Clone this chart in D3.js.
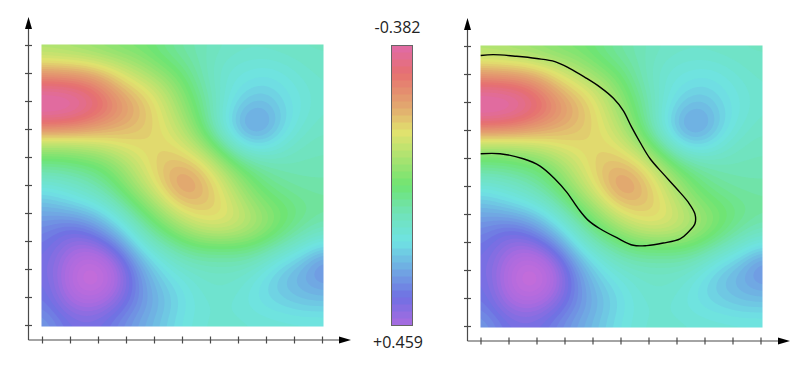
<!DOCTYPE html>
<html><head><meta charset="utf-8">
<script src="https://cdnjs.cloudflare.com/ajax/libs/d3/7.9.0/d3.min.js"></script>
<style>html,body{margin:0;padding:0;background:#fff}svg{display:block}text{font-family:"Open Sans",sans-serif;font-size:16px;fill:#222}</style>
</head><body><svg id="c" width="811" height="366"></svg>
<script>
// Field level on a 15 x 15 lattice (0 = top of colour bar, 1 = bottom of colour bar)
const fieldRows = [
[.42,.43,.45,.47,.50,.50,.54,.58,.60,.62,.63,.63,.62,.62,.62],
[.28,.29,.30,.33,.37,.43,.49,.54,.60,.65,.67,.68,.67,.64,.63],
[.07,.08,.10,.17,.27,.32,.39,.48,.58,.66,.70,.72,.70,.67,.64],
[-.03,-.03,.01,.08,.17,.25,.33,.44,.54,.66,.75,.78,.72,.68,.64],
[.10,.11,.14,.19,.23,.26,.31,.39,.52,.68,.81,.83,.73,.66,.63],
[.40,.40,.38,.35,.31,.30,.29,.33,.42,.56,.70,.72,.66,.62,.61],
[.54,.54,.52,.50,.42,.33,.26,.24,.30,.41,.52,.58,.60,.60,.60],
[.68,.66,.62,.56,.48,.38,.28,.17,.23,.33,.44,.52,.56,.58,.58],
[.78,.75,.72,.68,.58,.48,.38,.28,.26,.30,.38,.46,.50,.54,.56],
[.84,.88,.87,.80,.70,.58,.49,.40,.34,.32,.36,.42,.50,.56,.60],
[.88,.94,.98,.94,.83,.68,.60,.54,.50,.50,.50,.54,.60,.66,.72],
[.90,.98,1.09,1.08,.95,.80,.70,.64,.62,.62,.62,.66,.74,.78,.88],
[.88,.98,1.10,1.09,.96,.83,.75,.70,.65,.64,.66,.72,.76,.79,.81],
[.86,.94,.99,.97,.90,.83,.77,.71,.67,.66,.68,.70,.72,.74,.74],
[.80,.87,.90,.89,.84,.79,.74,.69,.66,.65,.65,.66,.66,.66,.66]
];
// Colour bar stops
const colorLevels = [0,.10,.22,.31,.50,.60,.70,.90,1.0,1.12];
const colorValues = ["#e06aa8","#e67070","#e2a86f","#e1e26e","#6fe472","#70e3b8","#6fe3e3","#7070e3","#a96be0","#cc6cd8"];
const barLabels = ["-0.382","+0.459"];
// Closed black outline on the right panel, axis units
const outlineX = [-.01,.44,1.27,1.99,2.64,3.18,3.71,4.25,4.73,5.08,5.38,5.68,6.04,6.51,6.99,7.40,7.64,7.64,7.40,7.11,6.51,5.92,5.44,4.85,4.25,3.83,3.48,3.06,2.64,2.11,1.51,.68,-.01];
const outlineY = [9.68,9.71,9.65,9.57,9.46,9.21,8.90,8.55,8.15,7.71,7.12,6.58,5.99,5.45,4.92,4.44,4.02,3.67,3.37,3.13,2.98,2.89,2.90,3.17,3.49,3.79,4.20,4.80,5.27,5.73,5.99,6.17,6.17];
const tickValues = d3.range(0,11);
const bandCount = 64, barBands = 40;

const color = d3.scaleLinear().domain(colorLevels).range(colorValues).interpolate(d3.interpolateRgb).clamp(true);
const svg = d3.select("#c");

// Catmull-Rom resampling of the lattice so that the bands are smooth
function cr(p0,p1,p2,p3,t){return .5*(2*p1+(p2-p0)*t+(2*p0-5*p1+4*p2-p3)*t*t+(3*p1-p0-3*p2+p3)*t*t*t);}
const N = fieldRows.length, S = 12, M = (N-1)*S+1;
const at=(i,j)=>fieldRows[Math.max(0,Math.min(N-1,j))][Math.max(0,Math.min(N-1,i))];
const fine = new Float64Array(M*M);
for(let y=0;y<M;y++){const fy=y/S,j=Math.min(N-2,Math.floor(fy)),ty=fy-j;
  for(let x=0;x<M;x++){const fx=x/S,i=Math.min(N-2,Math.floor(fx)),tx=fx-i;
    const r=[-1,0,1,2].map(d=>cr(at(i-1,j+d),at(i,j+d),at(i+1,j+d),at(i+2,j+d),tx));
    fine[y*M+x]=cr(r[0],r[1],r[2],r[3],ty);}}
d3.blur2({data:fine,width:M,height:M},6);
const thresholds = d3.range(bandCount).map(k=>-0.05+k*(1.2/bandCount));
const contours = d3.contours().size([M,M]).thresholds(thresholds).smooth(true)(fine);

function panel(id,opt){
  const g = svg.append("g");
  const x = d3.scaleLinear().domain([0,10]).range(opt.xr);
  const y = d3.scaleLinear().domain([0,10]).range(opt.yr);
  const px = d3.scaleLinear().domain([.5,M-.5]).range([opt.box[0],opt.box[0]+opt.box[2]]);
  const py = d3.scaleLinear().domain([.5,M-.5]).range([opt.box[1],opt.box[1]+opt.box[3]]);
  g.append("clipPath").attr("id",id).append("rect").attr("x",opt.box[0]).attr("y",opt.box[1]).attr("width",opt.box[2]).attr("height",opt.box[3]);
  const path = d3.geoPath(d3.geoTransform({point(a,b){this.stream.point(px(a),py(b));}}));
  const m = g.append("g").attr("clip-path",`url(#${id})`);
  const inner = m.append("g").style("filter","blur(0.6px)");
  inner.append("rect").attr("x",opt.box[0]-3).attr("y",opt.box[1]-3).attr("width",opt.box[2]+6).attr("height",opt.box[3]+6).attr("fill",color(0));
  inner.selectAll("path").data(contours).join("path").attr("d",path).attr("fill",d=>color(d.value+1.2/bandCount/2));
  // axes
  const ax = g.append("g").attr("stroke","#4a4a4a").attr("stroke-width",1.2).attr("fill","none");
  ax.append("line").attr("x1",opt.ax).attr("x2",opt.ax).attr("y1",opt.ay).attr("y2",opt.top+10);
  ax.append("line").attr("x1",opt.ax).attr("x2",opt.right-10).attr("y1",opt.ay).attr("y2",opt.ay);
  ax.selectAll(".tx").data(tickValues).join("line").attr("x1",d=>x(d)).attr("x2",d=>x(d)).attr("y1",opt.ay-3.5).attr("y2",opt.ay+3.5);
  ax.selectAll(".ty").data(tickValues).join("line").attr("y1",d=>y(d)).attr("y2",d=>y(d)).attr("x1",opt.ax-3.5).attr("x2",opt.ax+3.5);
  g.append("path").attr("d",`M${opt.ax},${opt.top}l-3.5,12h7z`).attr("fill","#000");
  g.append("path").attr("d",`M${opt.right},${opt.ay}l-12,-3.5v7z`).attr("fill","#000");
  return {g,x,y};
}

panel("left",{box:[41.5,44.5,282,282],xr:[42.5,322.5],yr:[325.5,45.5],ax:28.5,ay:340,top:17,right:351});
const R = panel("right",{box:[480.5,45.5,282,282],xr:[481,761],yr:[326.5,46.5],ax:467.5,ay:341,top:18,right:790});
const pts = outlineX.map((v,i)=>[R.x(v),R.y(outlineY[i])]);
R.g.append("path").attr("d",d3.line().curve(d3.curveCatmullRom)(pts)).attr("fill","none").attr("stroke","#000").attr("stroke-width",1.4);

// colour bar
const bar = svg.append("g");
const by = d3.scaleBand().domain(d3.range(barBands)).range([45.5,325.5]);
bar.selectAll("rect").data(d3.range(barBands)).join("rect").attr("x",392).attr("width",20.5).attr("y",d=>by(d)).attr("height",by.bandwidth()+.5).attr("fill",d=>color((d+.5)/barBands));
bar.append("rect").attr("x",391.5).attr("y",45.5).attr("width",21).attr("height",280).attr("fill","none").attr("stroke","#666").attr("stroke-width",1);
bar.append("text").attr("x",397.5).attr("y",32.5).attr("text-anchor","middle").text(barLabels[0]);
bar.append("text").attr("x",398).attr("y",348).attr("text-anchor","middle").text(barLabels[1]);
</script></body></html>
